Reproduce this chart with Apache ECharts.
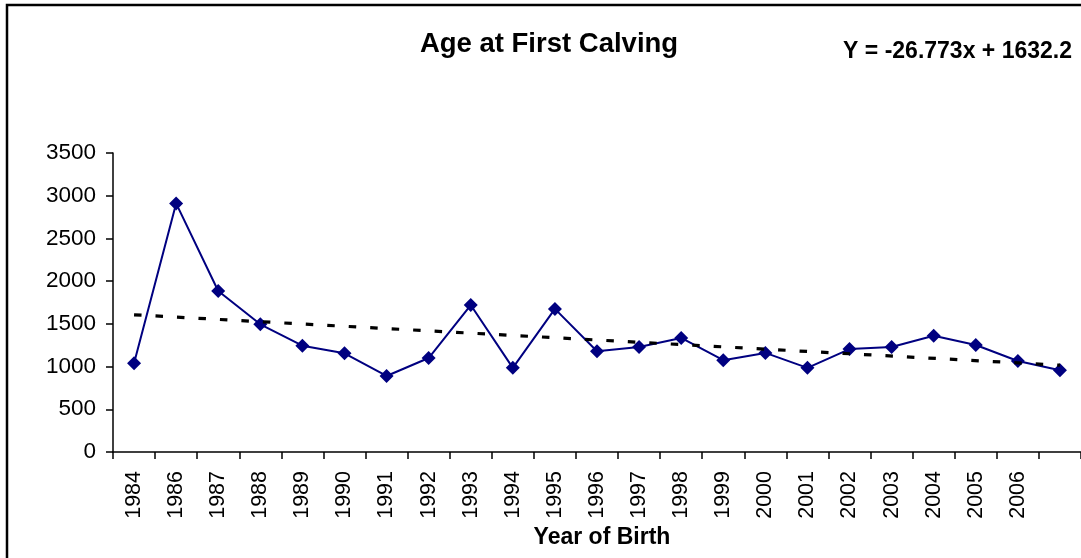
<!DOCTYPE html>
<html>
<head>
<meta charset="utf-8">
<script src="https://cdn.jsdelivr.net/npm/echarts@6/dist/echarts.min.js"></script>
<style>
  html, body { margin: 0; padding: 0; background: #fff; }
  #chart { width: 1081px; height: 558px; }
</style>
</head>
<body>
<div id="chart"></div>
<script>
// Categories (last point has no printed label in the reference)
const years = ['1984','1986','1987','1988','1989','1990','1991','1992','1993','1994','1995','1996','1997','1998','1999','2000','2001','2002','2003','2004','2005','2006',''];
// Age at first calving values
const ageValues = [1040, 2910, 1885, 1495, 1245, 1155, 890, 1100, 1720, 985, 1675, 1180, 1230, 1335, 1075, 1160, 985, 1205, 1230, 1360, 1253, 1065, 958];
// Linear trend line end points
const trendStart = 1606;
const trendEnd = 1016;
const yTicks = { min: 0, max: 3500, interval: 500 };
const titleText = 'Age at First Calving';
const equationText = 'Y = -26.773x + 1632.2';
const xName = 'Year of Birth';

const trendData = years.map((_, i) => i === 0 ? trendStart : (i === years.length - 1 ? trendEnd : null));

const FONT = '"Liberation Sans", Arial, sans-serif';
const chart = echarts.init(document.getElementById('chart'), null, { renderer: 'canvas' });
chart.setOption({
  animation: false,
  backgroundColor: '#fff',
  grid: { left: 113, right: -10, top: 153, bottom: 106, containLabel: false },
  xAxis: {
    type: 'category',
    data: years,
    boundaryGap: true,
    axisLine: { lineStyle: { color: '#000', width: 1.5 } },
    axisTick: { show: true, length: 7, interval: 0, lineStyle: { color: '#000', width: 1.5 } },
    axisLabel: { interval: 0, rotate: 90, fontSize: 21.5, color: '#000', fontFamily: FONT, margin: 19 },
    splitLine: { show: false }
  },
  yAxis: {
    type: 'value',
    min: yTicks.min, max: yTicks.max, interval: yTicks.interval,
    axisLine: { show: true, lineStyle: { color: '#000', width: 1.5 } },
    axisTick: { show: true, length: 7, lineStyle: { color: '#000', width: 1.5 } },
    axisLabel: { fontSize: 22.5, color: '#000', fontFamily: FONT, margin: 17, formatter: v => String(v) },
    splitLine: { show: false }
  },
  series: [
    {
      type: 'line',
      data: ageValues,
      symbol: 'diamond',
      symbolSize: 14,
      lineStyle: { color: '#000080', width: 2 },
      itemStyle: { color: '#000080' },
      z: 2
    },
    {
      type: 'line',
      data: trendData,
      connectNulls: true,
      symbol: 'none',
      lineStyle: { color: '#000', width: 3.2, type: [7.5, 14] },
      z: 3
    }
  ],
  graphic: [
    { type: 'rect', shape: { x: 7, y: 5, width: 1200, height: 700 }, style: { fill: 'none', stroke: '#000', lineWidth: 2.5 }, silent: true },
    { type: 'text', x: 549, y: 44, style: { text: titleText, font: 'bold 27.5px ' + FONT, fill: '#000', textAlign: 'center', textVerticalAlign: 'middle' } },
    { type: 'text', x: 1072, y: 52, style: { text: equationText, font: 'bold 23px ' + FONT, fill: '#000', textAlign: 'right', textVerticalAlign: 'middle' } },
    { type: 'text', x: 602, y: 538, style: { text: xName, font: 'bold 23px ' + FONT, fill: '#000', textAlign: 'center', textVerticalAlign: 'middle' } }
  ]
});
</script>
</body>
</html>
